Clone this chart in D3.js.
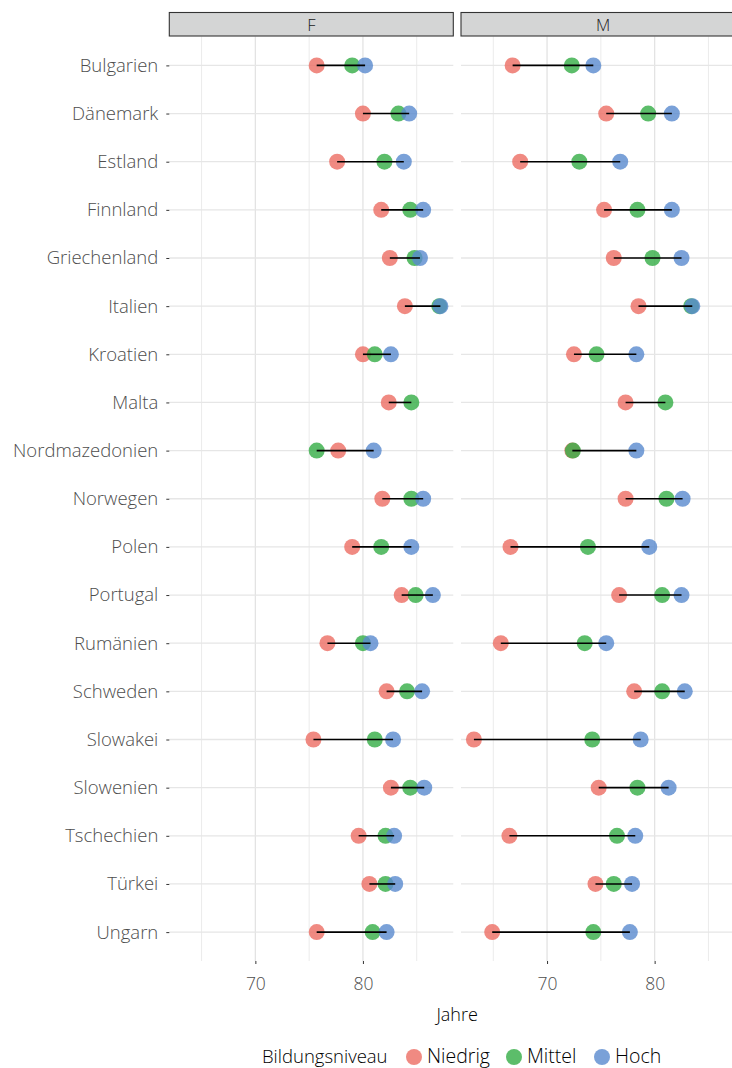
<!DOCTYPE html>
<html>
<head>
<meta charset="utf-8">
<script src="https://cdn.jsdelivr.net/npm/d3@7"></script>
<style>
  body { margin: 0; background: #fff; overflow: hidden; }
  svg { font-family: 'Open Sans', sans-serif; font-weight: 300; }
</style>
</head>
<body>
<div id="chart"></div>
<script>
const countries = ['Bulgarien', 'Dänemark', 'Estland', 'Finnland', 'Griechenland', 'Italien',
  'Kroatien', 'Malta', 'Nordmazedonien', 'Norwegen', 'Polen', 'Portugal', 'Rumänien',
  'Schweden', 'Slowakei', 'Slowenien', 'Tschechien', 'Türkei', 'Ungarn'];

const facets = ['F', 'M'];
const levels = ['Niedrig', 'Mittel', 'Hoch'];
const colors = ['#EC6D63', '#33AC45', '#598ACE'];
const xTicks = [70, 80];
const xMinor = [65, 75, 85];

// Frauen
const niedrigF = [75.7, 80.0, 77.6, 81.7, 82.5, 83.9, 80.0, 82.4, 77.7, 81.8, 79.0, 83.6, 76.7, 82.2, 75.4, 82.6, 79.6, 80.6, 75.7];
const mittelF  = [79.0, 83.3, 82.0, 84.4, 84.8, 87.1, 81.1, 84.5, 75.7, 84.5, 81.7, 84.9, 80.0, 84.1, 81.1, 84.4, 82.1, 82.1, 80.9];
const hochF    = [80.2, 84.3, 83.8, 85.6, 85.3, 87.2, 82.6, null, 81.0, 85.6, 84.5, 86.5, 80.7, 85.5, 82.8, 85.7, 82.9, 83.0, 82.2];
// Männer
const niedrigM = [66.8, 75.5, 67.5, 75.3, 76.2, 78.5, 72.5, 77.3, 72.35, 77.3, 66.6, 76.7, 65.7, 78.1, 63.2, 74.8, 66.5, 74.5, 64.9];
const mittelM  = [72.3, 79.4, 73.0, 78.4, 79.8, 83.4, 74.6, 81.0, 72.4, 81.1, 73.8, 80.7, 73.5, 80.7, 74.2, 78.4, 76.5, 76.2, 74.3];
const hochM    = [74.3, 81.6, 76.8, 81.6, 82.5, 83.5, 78.3, null, 78.3, 82.6, 79.5, 82.5, 75.5, 82.8, 78.7, 81.3, 78.2, 77.9, 77.7];

const series = {
  F: [niedrigF, mittelF, hochF],
  M: [niedrigM, mittelM, hochM]
};

const width = 732, height = 1068;
const panelW = 284, panelTop = 36.5, panelBottom = 961;
const panelX = { F: 169.3, M: 461 };
const font = "'Open Sans', sans-serif";

const svg = d3.select('#chart').append('svg')
  .attr('width', width).attr('height', height);

// shared x domain with ggplot-style 5% expansion
const allVals = [].concat(niedrigF, mittelF, hochF, niedrigM, mittelM, hochM).filter(v => v !== null);
const [lo, hi] = d3.extent(allVals);
const pad = (hi - lo) * 0.05;

const y = d3.scalePoint().domain(countries).range([panelTop, panelBottom]).padding(0.6);

facets.forEach(f => {
  const x = d3.scaleLinear().domain([lo - pad, hi + pad]).range([panelX[f], panelX[f] + panelW]);
  const g = svg.append('g');

  // grid
  g.selectAll('.minor').data(xMinor).join('line')
    .attr('x1', d => x(d)).attr('x2', d => x(d))
    .attr('y1', panelTop).attr('y2', panelBottom)
    .attr('stroke', '#EBEBEB').attr('stroke-width', 1);
  g.selectAll('.major').data(xTicks).join('line')
    .attr('x1', d => x(d)).attr('x2', d => x(d))
    .attr('y1', panelTop).attr('y2', panelBottom)
    .attr('stroke', '#E3E3E3').attr('stroke-width', 1.3);
  g.selectAll('.hgrid').data(countries).join('line')
    .attr('x1', panelX[f]).attr('x2', panelX[f] + panelW)
    .attr('y1', d => y(d)).attr('y2', d => y(d))
    .attr('stroke', '#E6E6E6').attr('stroke-width', 1.3);

  // strip
  g.append('rect')
    .attr('x', panelX[f]).attr('y', 12.5).attr('width', panelW).attr('height', 23.5)
    .attr('fill', '#D4D5D5').attr('stroke', '#333').attr('stroke-width', 1.1);
  g.append('text')
    .attr('x', panelX[f] + panelW / 2).attr('y', 30.5)
    .attr('text-anchor', 'middle').attr('font-size', 16.5).attr('fill', '#1A1A1A')
    .text(f);

  // x axis
  const xAxis = g.append('g').attr('transform', `translate(0,${panelBottom})`)
    .call(d3.axisBottom(x).tickValues(xTicks).tickSize(3).tickPadding(14));
  xAxis.select('.domain').remove();
  xAxis.selectAll('.tick line').attr('stroke', '#333');
  xAxis.selectAll('.tick text').attr('font-size', 17.5).attr('fill', '#4D4D4D')
    .attr('font-family', font).attr('font-weight', 300);

  // points
  const vals = series[f];
  levels.forEach((lev, i) => {
    g.append('g').selectAll('circle')
      .data(countries.map((c, j) => ({ c, v: vals[i][j] })).filter(d => d.v !== null))
      .join('circle')
      .attr('cx', d => x(d.v)).attr('cy', d => y(d.c)).attr('r', 8)
      .attr('fill', colors[i]).attr('fill-opacity', 0.8);
  });

  // range segment on top
  g.append('g').selectAll('line')
    .data(countries.map((c, j) => {
      const v = vals.map(s => s[j]).filter(d => d !== null);
      return { c, min: d3.min(v), max: d3.max(v) };
    }))
    .join('line')
    .attr('x1', d => x(d.min)).attr('x2', d => x(d.max))
    .attr('y1', d => y(d.c)).attr('y2', d => y(d.c))
    .attr('stroke', '#000').attr('stroke-width', 1.6);
});

// y axis on left panel
const yAxis = svg.append('g').attr('transform', `translate(${panelX.F},0)`)
  .call(d3.axisLeft(y).tickSize(3).tickPadding(8));
yAxis.select('.domain').remove();
yAxis.selectAll('.tick line').attr('stroke', '#333');
yAxis.selectAll('.tick text').attr('font-size', 18.5).attr('fill', '#4D4D4D')
  .attr('font-family', font).attr('font-weight', 300);

// x title
svg.append('text')
  .attr('x', (panelX.F + panelX.M + panelW) / 2).attr('y', 1021)
  .attr('text-anchor', 'middle').attr('font-size', 18).attr('fill', '#000')
  .text('Jahre');

// legend
const leg = svg.append('g');
const ly = 1063;
const keyX = [414, 514, 602];
leg.append('text').attr('x', 262).attr('y', ly)
  .attr('font-size', 18.5).text('Bildungsniveau');
levels.forEach((lev, i) => {
  leg.append('circle').attr('cx', keyX[i]).attr('cy', ly - 6).attr('r', 8)
    .attr('fill', colors[i]).attr('fill-opacity', 0.8);
  leg.append('text').attr('x', keyX[i] + 13).attr('y', ly)
    .attr('font-size', 19.5).text(lev);
});
</script>
</body>
</html>
